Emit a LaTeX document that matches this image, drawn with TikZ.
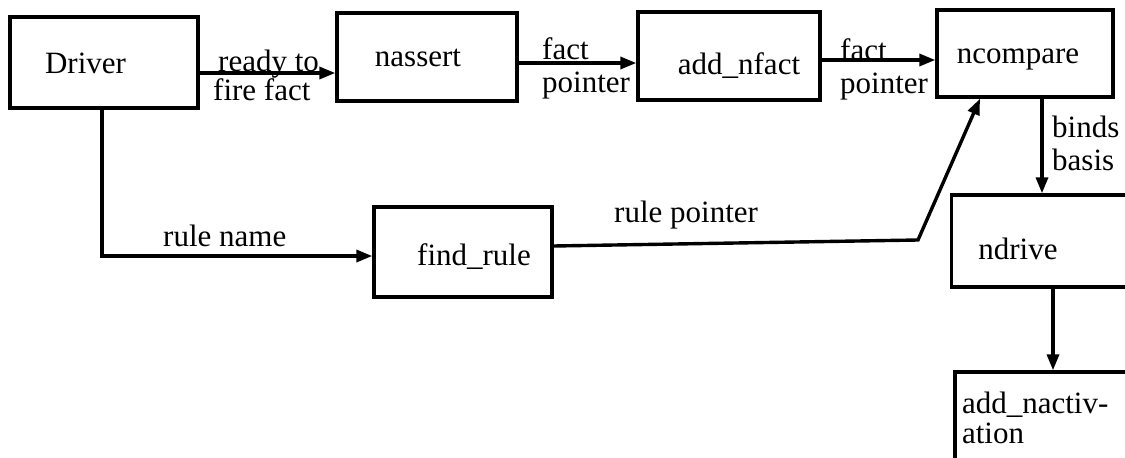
\documentclass[tikz,border=0pt]{standalone}
\usepackage{fontspec}
\setmainfont{Liberation Serif}
\usetikzlibrary{arrows.meta,calc}
\newcommand{\tsh}[3]{\hspace*{#1pt}\raisebox{#2pt}{#3}}
\begin{document}
\begin{tikzpicture}[x=1pt,y=-1pt,
  every node/.style={font=\fontsize{31}{31}\selectfont},
  boxn/.style={draw, line width=3.4pt, rectangle, inner sep=0pt, text height=22pt, text depth=7pt},
  lbl/.style={inner sep=0pt},
  arr/.style={line width=3.4pt, -{Triangle[length=16pt,width=12pt]}}]
\useasboundingbox (0,0) rectangle (1125,458);
\clip (0,0) rectangle (1125,458);
% boxes
\node[boxn, minimum width=188pt, minimum height=91pt] (drv) at (104,62.5) {\tsh{-37}{-3}{Driver}};
\node[boxn, minimum width=180pt, minimum height=88pt] (nas) at (427,57) {\tsh{-18}{-1.5}{nassert}};
\node[boxn, minimum width=182pt, minimum height=88pt] (anf) at (729,56) {\tsh{20}{-11}{add\_nfact}};
\node[boxn, minimum width=176pt, minimum height=87pt] (ncmp) at (1025,53.5) {\tsh{-14}{-2}{ncompare}};
\node[boxn, minimum width=178pt, minimum height=90pt] (fr) at (463,252) {\tsh{22}{-5.5}{find\_rule}};
\node[boxn, minimum width=183pt, minimum height=92pt] (ndr) at (1043,241) {\tsh{-50}{-11}{ndrive}};
\node[draw, line width=3.4pt, rectangle, inner xsep=7pt, inner ysep=0pt, text width=176pt, align=left, minimum height=92pt,
  font=\fontsize{31}{30}\selectfont] (nact) at (1050,418) {add\_nactiv-\\ation};
% connectors
\coordinate (bend) at (918,240);
\draw[arr] ([yshift=-10.5pt]drv.east) -- ([yshift=-10.5pt]drv.east -| nas.west);
\draw[arr] ([yshift=-6pt]nas.east) -- ([yshift=-6pt]nas.east -| anf.west);
\draw[arr] ([yshift=-4pt]anf.east) -- ([yshift=-4pt]anf.east -| ncmp.west);
\draw[arr] ([xshift=17pt]ncmp.south) -- ([xshift=17pt]ncmp.south |- ndr.north);
\draw[arr] ([xshift=10pt]ndr.south) -- ([xshift=10pt]ndr.south |- nact.north);
\draw[arr] ([xshift=-2pt]drv.south) |- ([yshift=-4pt]fr.west);
\draw[arr] ([yshift=6pt]fr.east) -- (bend) -- ([xshift=-45pt]ncmp.south);
% labels
\node[lbl, anchor=base west] (l1) at (218,71) {ready to};
\node[lbl, anchor=base west] (l2) at (213,100) {fire fact};
\node[lbl, anchor=base west] (l3) at (542,59) {fact};
\node[lbl, anchor=base west] (l4) at (542,92) {pointer};
\node[lbl, anchor=base west] (l5) at (840,60) {fact};
\node[lbl, anchor=base west] (l6) at (840,93) {pointer};
\node[lbl, anchor=base west] (l7) at (1052,137) {binds};
\node[lbl, anchor=base west] (l8) at (1052,170) {basis};
\node[lbl, anchor=base west] (l9) at (163,246) {rule name};
\node[lbl, anchor=base west] (l10) at (614,222) {rule pointer};
\end{tikzpicture}
\end{document}
